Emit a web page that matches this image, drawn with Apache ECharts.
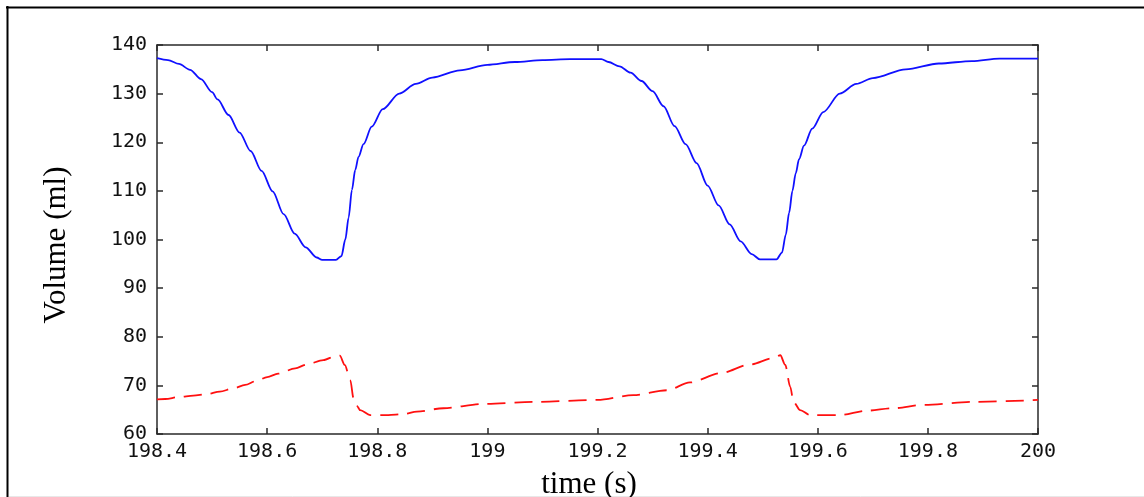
<!DOCTYPE html>
<html>
<head>
<meta charset="utf-8">
<script src="https://cdn.jsdelivr.net/npm/echarts@6/dist/echarts.min.js"></script>
<style>
html,body{margin:0;padding:0;background:#fff;}
#chart{width:1144px;height:497px;}
</style>
</head>
<body>
<div id="chart"></div>
<script>
// ---- data ----
const xTitle = 'time (s)';
const yTitle = 'Volume (ml)';
const xTicks = [198.4, 198.6, 198.8, 199, 199.2, 199.4, 199.6, 199.8, 200];
const yTicks = [60, 70, 80, 90, 100, 110, 120, 130, 140];

const blueT = [198.40,198.42,198.44,198.46,198.48,198.50,198.51,198.53,198.55,198.57,198.59,198.61,198.63,198.65,198.67,198.69,198.70,198.725,198.735,198.742,198.748,198.754,198.760,198.766,198.775,198.79,198.81,198.84,198.87,198.90,198.95,199.00,199.05,199.10,199.15,199.207,199.22,199.24,199.26,199.28,199.30,199.32,199.34,199.36,199.38,199.40,199.42,199.44,199.46,199.48,199.495,199.525,199.535,199.542,199.548,199.554,199.560,199.566,199.575,199.59,199.61,199.64,199.67,199.70,199.76,199.82,199.88,199.93,200.00];
const blueV = [137.3,136.9,136.1,134.9,133.0,130.3,128.8,125.6,122.0,118.2,114.1,109.9,105.2,101.2,98.4,96.3,95.8,95.8,96.6,100.0,104.5,110.2,114.3,117.0,119.6,123.2,126.8,130.0,132.0,133.3,134.8,135.9,136.5,136.9,137.1,137.1,136.5,135.6,134.3,132.6,130.5,127.4,123.3,119.6,115.7,111.1,107.0,103.1,99.6,97.0,95.9,95.9,97.3,101.0,105.5,110.0,113.6,116.5,119.3,122.8,126.2,130.0,132.0,133.2,135.0,136.2,136.7,137.2,137.2];

const redT = [198.40,198.415,198.44,198.466,198.49,198.514,198.539,198.56,198.58,198.60,198.62,198.651,198.672,198.702,198.726,198.732,198.741,198.751,198.757,198.763,198.769,198.787,198.82,198.847,198.872,198.92,198.993,199.083,199.20,199.265,199.326,199.368,199.423,199.477,199.519,199.532,199.541,199.55,199.556,199.568,199.586,199.64,199.689,199.737,199.792,199.883,200.00];
const redV = [67.1,67.2,67.6,67.9,68.2,68.7,69.4,70.1,70.9,71.7,72.4,73.5,74.3,75.2,76.1,76.1,74.2,71.1,67.3,65.8,64.9,63.9,63.9,64.1,64.6,65.3,66.2,66.6,67.0,68.0,69.0,70.6,72.5,74.3,75.6,76.2,74.2,69.7,66.6,64.9,63.9,63.9,64.8,65.3,66.0,66.6,67.0];

const blueData = blueT.map((t, i) => [t, blueV[i]]);
const redData = redT.map((t, i) => [t, redV[i]]);

const chart = echarts.init(document.getElementById('chart'), null, {renderer: 'canvas'});
const axisColor = '#2a2a2a';
const labelFont = {fontFamily: 'DejaVu Sans Mono', fontSize: 20, color: '#111'};
const fmtX = v => String(+(+v).toFixed(1));

function xAx(pos, showLabel) {
  return {
    type: 'value', position: pos, gridIndex: 0,
    min: xTicks[0], max: xTicks[xTicks.length - 1], interval: 0.2,
    axisLine: {show: true, onZero: false, lineStyle: {color: axisColor, width: 1.5}},
    axisTick: {show: true, inside: true, length: 6, lineStyle: {color: axisColor, width: 1.5}},
    axisLabel: Object.assign({show: showLabel, margin: 8, formatter: fmtX}, labelFont),
    splitLine: {show: false}
  };
}
function yAx(pos, showLabel) {
  return {
    type: 'value', position: pos, gridIndex: 0,
    min: yTicks[0], max: yTicks[yTicks.length - 1], interval: 10,
    axisLine: {show: true, onZero: false, lineStyle: {color: axisColor, width: 1.5}},
    axisTick: {show: true, inside: true, length: 6, lineStyle: {color: axisColor, width: 1.5}},
    axisLabel: Object.assign({show: showLabel, margin: 10}, labelFont),
    splitLine: {show: false}
  };
}

chart.setOption({
  animation: false,
  backgroundColor: '#fff',
  grid: {left: 157, top: 45, right: 106, bottom: 63, containLabel: false},
  xAxis: [xAx('bottom', true), xAx('top', false)],
  yAxis: [yAx('left', true), yAx('right', false)],
  series: [
    {type: 'line', data: blueData, xAxisIndex: 0, yAxisIndex: 0, showSymbol: false,
     lineStyle: {color: '#1010ff', width: 1.8}, smooth: 0.3, smoothMonotone: 'x'},
    {type: 'line', data: redData, xAxisIndex: 0, yAxisIndex: 0, showSymbol: false,
     lineStyle: {color: '#ff1010', width: 1.8, type: [18, 9]}, smooth: 0.3, smoothMonotone: 'x'}
  ],
  graphic: [
    {type: 'line', shape: {x1: 6, y1: 7.5, x2: 1144, y2: 7.5}, style: {stroke: '#000', lineWidth: 2}},
    {type: 'line', shape: {x1: 7.5, y1: 6, x2: 7.5, y2: 497}, style: {stroke: '#000', lineWidth: 2}},
    {type: 'line', shape: {x1: 9, y1: 496.5, x2: 1144, y2: 496.5}, style: {stroke: '#e8e8e8', lineWidth: 1}},
    {type: 'text', x: 57, y: 245, rotation: Math.PI / 2,
     style: {text: yTitle, font: '31px "Liberation Serif"', fill: '#000', textAlign: 'center', textVerticalAlign: 'middle'}},
    {type: 'text', x: 589, y: 485,
     style: {text: xTitle, font: '31px "Liberation Serif"', fill: '#000', textAlign: 'center', textVerticalAlign: 'middle'}}
  ]
});
</script>
</body>
</html>
